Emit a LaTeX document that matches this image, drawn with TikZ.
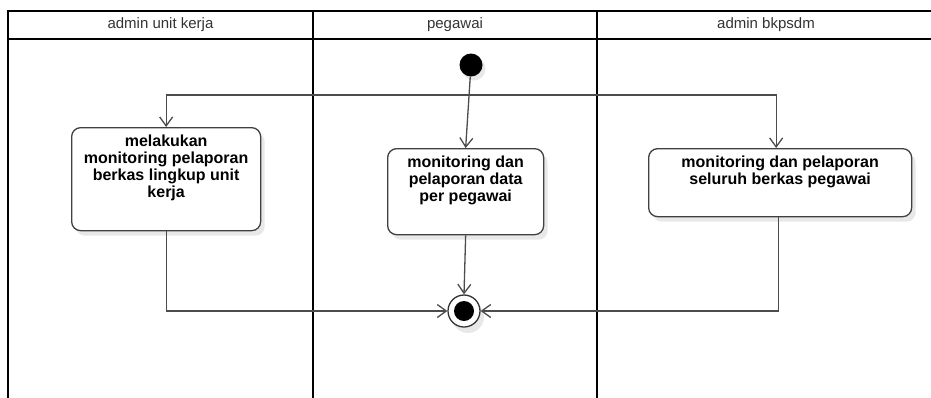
\documentclass[tikz,border=0pt]{standalone}
\usepackage{fontspec}
\setmainfont{Liberation Sans}
\usetikzlibrary{arrows.meta,shadows}
\newcommand\acttextfont{\fontsize{16}{17}\selectfont\bfseries}
\begin{document}
\begin{tikzpicture}[x=1pt,y=-1pt,
  lane/.style={line width=2pt, draw=black},
  hdr/.style={font=\fontsize{15}{18}\selectfont, text=black!80, anchor=center, inner sep=0pt},
  act/.style={draw=black!75, line width=1.3pt, rounded corners=9pt, fill=white, inner sep=0pt,
    anchor=north west, drop shadow={shadow xshift=4pt, shadow yshift=-5pt, fill=black!9, opacity=1}},
  conn/.style={draw=black!70, line width=1.3pt},
  arr/.style={conn, -{Straight Barb[length=9pt,width=13pt,line width=1.3pt]}},
  startst/.style={circle, fill=black, minimum size=23pt, inner sep=0pt,
    drop shadow={shadow xshift=3pt, shadow yshift=-4pt, fill=black!9, opacity=1}},
  endst/.style={circle, draw=black!80, line width=1.3pt, fill=white, minimum size=32pt, inner sep=0pt,
    drop shadow={shadow xshift=4pt, shadow yshift=-6pt, fill=black!9, opacity=1},
    path picture={\fill[black] (path picture bounding box.center) circle (10pt);}}
]
\useasboundingbox (0,0) rectangle (931,397);
% swimlanes
\draw[lane] (8,400) -- (8,11) -- (940,11);
\draw[lane] (8,38.5) -- (940,38.5);
\draw[lane] (313,11) -- (313,400);
\draw[lane] (597,11) -- (597,400);
\node[hdr] (h1) at (160.5,25) {admin unit kerja};
\node[hdr] (h2) at (455,25) {pegawai};
\node[hdr] (h3) at (766,25) {admin bkpsdm};
% nodes
\node[startst] (S) at (471,65) {};
\node[act, minimum width=189pt, minimum height=103pt] (A) at (71,127)
  {\begin{minipage}[t][103pt][t]{189pt}\vspace*{7pt}\centering\acttextfont\strut melakukan\\monitoring pelaporan\\berkas lingkup unit\\kerja\end{minipage}};
\node[act, minimum width=156pt, minimum height=86pt] (B) at (387,148)
  {\begin{minipage}[t][86pt][t]{156pt}\vspace*{7pt}\centering\acttextfont\strut monitoring dan\\pelaporan data\\per pegawai\end{minipage}};
\node[act, minimum width=263pt, minimum height=68pt] (C) at (648,148)
  {\begin{minipage}[t][68pt][t]{263pt}\vspace*{7pt}\centering\acttextfont\strut monitoring dan pelaporan\\seluruh berkas pegawai\end{minipage}};
\node[endst] (E) at (464,311) {};
\coordinate (J) at (467,95);
% connectors
\draw[arr] (S) -- (B.north);
\draw[arr] (J) -| (A.north);
\draw[arr] (J) -| ([xshift=-4pt]C.north);
\draw[arr] (B.south) -- (E.north);
\draw[arr] (A.south) |- (E.west);
\draw[arr] ([xshift=-2pt]C.south) |- (E.east);
\end{tikzpicture}
\end{document}
